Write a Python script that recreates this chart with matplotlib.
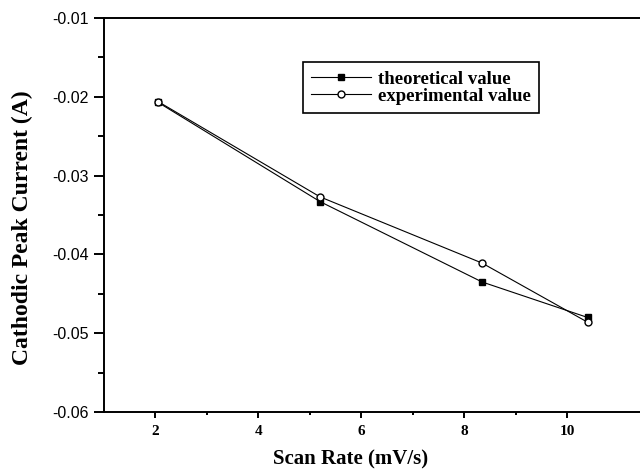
import matplotlib
matplotlib.use("Agg")
import matplotlib.pyplot as plt
from matplotlib.ticker import FixedLocator

# Data
scan_rate = [2.05, 5.2, 8.35, 10.4]
theoretical = [-0.0207, -0.0333, -0.0435, -0.0480]
experimental = [-0.0206, -0.0327, -0.0411, -0.0486]
x_ticks = [2, 4, 6, 8, 10]
y_ticks = [-0.06, -0.05, -0.04, -0.03, -0.02, -0.01]
y_tick_labels = ["-0.06", "-0.05", "-0.04", "-0.03", "-0.02", "-0.01"]

fig = plt.figure(figsize=(6.4, 4.71), dpi=100)
ax = fig.add_axes([104/640, 1-412/471, 1-104/640, (412-18)/471])

ax.plot(scan_rate, theoretical, color="black", lw=0.8, marker="s", ms=5,
        mfc="black", mec="black", label="theoretical value")
ax.plot(scan_rate, experimental, color="black", lw=0.8, marker="o", ms=5,
        mfc="white", mec="black", label="experimental value")

ax.set_xlim(1.0, 11.42)
ax.set_ylim(-0.06, -0.01)
ax.set_xticks(x_ticks)
ax.set_yticks(y_ticks)
ax.set_yticklabels(y_tick_labels)
ax.xaxis.set_minor_locator(FixedLocator([3, 5, 7, 9]))
ax.yaxis.set_minor_locator(FixedLocator([-0.055, -0.045, -0.035, -0.025, -0.015]))

for s in ["left", "bottom", "top"]:
    ax.spines[s].set_linewidth(1.4)
ax.spines["right"].set_visible(False)

ax.tick_params(axis="y", which="major", direction="out", length=7, width=1.4, pad=4)
ax.tick_params(axis="y", which="minor", direction="out", length=4, width=1.4)
ax.tick_params(axis="x", which="major", direction="out", length=4.5, width=1.4, pad=5)
ax.tick_params(axis="x", which="minor", direction="out", length=2.5, width=1.4)

for lab in ax.get_xticklabels():
    lab.set_fontfamily("Liberation Serif")
    lab.set_fontweight("bold")
    lab.set_fontsize(11)
for lab in ax.get_yticklabels():
    lab.set_fontfamily("Liberation Sans")
    lab.set_fontsize(11.5)

ax.set_xlabel("Scan Rate (mV/s)", fontfamily="Liberation Serif", fontweight="bold",
              fontsize=15)
ax.xaxis.set_label_coords((351-104)/536, -(459-412)/394, transform=ax.transAxes)
ax.xaxis.label.set_va("center")
ax.set_ylabel("Cathodic Peak Current (A)", fontfamily="Liberation Serif", fontweight="bold",
              fontsize=17)
ax.yaxis.set_label_coords(-(104-22)/536, (412-228)/394, transform=ax.transAxes)
ax.yaxis.label.set_va("center")

leg = ax.legend(loc="upper left", bbox_to_anchor=((303-104)/536, 1-(62-18)/394),
                borderaxespad=0,
                prop={"family": "Liberation Serif", "weight": "bold", "size": 13.5},
                frameon=True, fancybox=False, edgecolor="black", framealpha=1,
                handlelength=3.2, borderpad=0.45, labelspacing=0.0, handletextpad=0.35)
leg.get_frame().set_linewidth(1.2)

fig.savefig("out.png", dpi=100)
